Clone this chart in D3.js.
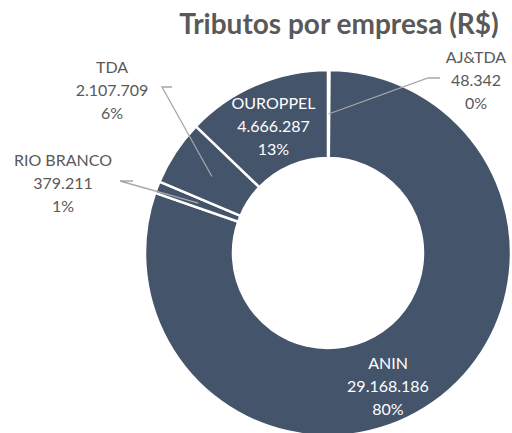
<!DOCTYPE html>
<html lang="pt">
<head>
<meta charset="utf-8">
<title>Tributos por empresa</title>
<script src="https://d3js.org/d3.v7.min.js"></script>
<style>
  body { margin: 0; padding: 0; background: #fff; }
  svg { display: block; font-family: Lato, "Open Sans", sans-serif; }
  .title { font-size: 28px; font-weight: bold; fill: #595959; }
  .lbl { font-size: 16px; fill: #595959; }
  .lbl.inside { fill: #fff; }
  .leader { fill: none; stroke: #a6a6a6; stroke-width: 1.3px; }
</style>
</head>
<body>
<div id="chart"></div>
<script>
// dados (ordem das fatias no sentido horario a partir do topo)
var empresas = ["AJ&TDA", "ANIN", "RIO BRANCO", "TDA", "OUROPPEL"];
var tributos = [48342, 29168186, 379211, 2107709, 4666287];

var width = 512, height = 433;
var cx = 328, cy = 253;
var outerR = 183, innerR = 95;

var svg = d3.select("#chart").append("svg")
    .attr("width", width)
    .attr("height", height);

svg.append("text")
    .attr("class", "title")
    .attr("x", 339)
    .attr("y", 34)
    .attr("text-anchor", "middle")
    .text("Tributos por empresa (R$)");

var total = d3.sum(tributos);
var fmtNum = d3.formatLocale({decimal: ",", thousands: ".", grouping: [3], currency: ["R$", ""]}).format(",d");

var pie = d3.pie().sort(null).value(function(d) { return d; });
var arcs = pie(tributos);

var arc = d3.arc().innerRadius(innerR).outerRadius(outerR);
var mid = d3.arc().innerRadius(139).outerRadius(139);

var g = svg.append("g").attr("transform", "translate(" + cx + "," + cy + ")");

g.selectAll("path.slice")
    .data(arcs)
    .enter().append("path")
    .attr("class", "slice")
    .attr("d", arc)
    .attr("fill", "#44546a")
    .attr("stroke", "#fff")
    .attr("stroke-width", 2.5)
    .attr("stroke-linejoin", "miter");

// posicao dos rotulos (relativa ao centro); elbow = trecho horizontal da linha
var rotulos = [
  {x: 148, y: -174, inside: false, elbow: [100, 112], ly: -175},
  {x: 60, y: 132, inside: true},
  {x: -265, y: -71, inside: false, elbow: [-195, -208], ly: -72},
  {x: -216, y: -164, inside: false, elbow: [-156, -166], ly: -166},
  {x: null, y: null, inside: true}
];

arcs.forEach(function(a, i) {
  var r = rotulos[i];
  var c = mid.centroid(a);
  var px = r.x === null ? c[0] : r.x;
  var py = r.y === null ? c[1] : r.y;
  var lines = [empresas[i], fmtNum(tributos[i]), Math.round(tributos[i] / total * 100) + "%"];

  if (!r.inside) {
    // linha de chamada: centroide -> cotovelo -> horizontal
    var e = r.elbow;
    var pts = i === 0
      ? [c, [e[0], r.ly], [e[1], r.ly]]
      : [c, [e[1], r.ly], [e[0], r.ly]];
    g.append("path")
      .attr("class", "leader")
      .attr("d", d3.line()(pts));
  }

  var t = g.append("text")
    .attr("class", r.inside ? "lbl inside" : "lbl")
    .attr("text-anchor", "middle");
  lines.forEach(function(s, k) {
    t.append("tspan")
      .attr("x", px)
      .attr("y", py + (k - 1) * 23)
      .attr("dominant-baseline", "central")
      .text(s);
  });
});
</script>
</body>
</html>
